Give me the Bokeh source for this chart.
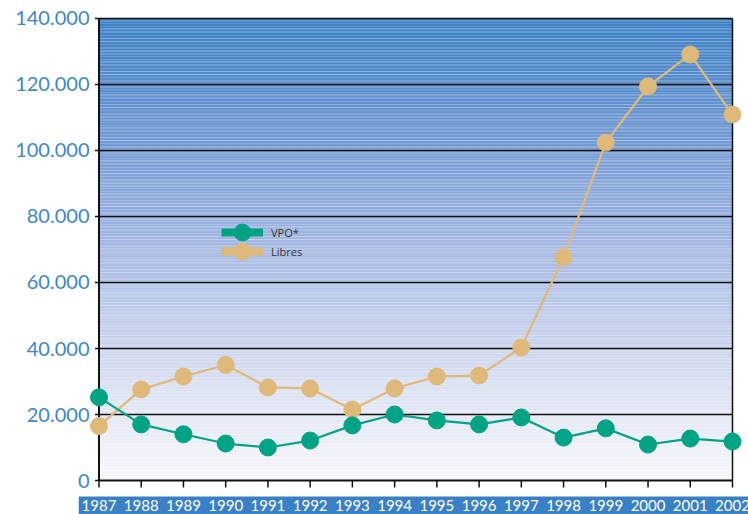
import numpy as np
from bokeh.plotting import figure
from bokeh.models import Range1d, FixedTicker, Legend, LegendItem
from bokeh.core.properties import value
from bokeh.embed import file_html
from bokeh.resources import INLINE

# ---- data ----
years = [1987, 1988, 1989, 1990, 1991, 1992, 1993, 1994, 1995, 1996, 1997, 1998, 1999, 2000, 2001, 2002]
vpo = [25200, 17000, 14000, 11200, 10000, 12100, 16700, 20000, 18200, 17000, 19100, 13000, 15800, 10900, 12700, 11800]
libres = [16500, 27600, 31500, 35000, 28200, 27900, 21500, 27900, 31500, 31800, 40300, 67600, 102400, 119400, 129100, 110900]
y_ticks = [0, 20000, 40000, 60000, 80000, 100000, 120000, 140000]
y_tick_labels = ["0", "20.000", "40.000", "60.000", "80.000", "100.000", "120.000", "140.000"]
x_tick_labels = ["1987", "1988", "1989", "1990", "1991", "1992", "1993", "1994",
                 "1995", "1996", "1997", "1998", "1999", "2000", "2001", "2002"]
series_names = ["VPO*", "Libres"]

TEAL = "#00a384"
TAN = "#dfb97a"
LABEL_BLUE = "#3d87c9"
BAND_BLUE = "#3a80c6"
FONT = "Lato"

W, H = 748, 514
FL, FT = 78, 16                     # frame left / top in px
XR = (1986.515, 2002.379)
YR = (-10303, 140606)
px_x = (XR[1] - XR[0]) / (W - FL)   # data units per pixel
px_y = (YR[1] - YR[0]) / (H - FT)

x0, x1 = years[0], years[-1]
y_top = y_ticks[-1]

p = figure(width=W, height=H, output_backend="svg", toolbar_location=None,
           x_range=Range1d(*XR), y_range=Range1d(*YR), x_axis_location=None,
           min_border_left=FL, min_border_right=0, min_border_top=FT, min_border_bottom=0,
           background_fill_color="white", border_fill_color="white", outline_line_color=None)
p.grid.visible = False

# ---- gradient background ----
stops = [(0.0, (247, 248, 252)), (0.17, (224, 229, 243)), (0.5, (166, 185, 227)),
         (0.75, (112, 152, 211)), (1.0, (58, 127, 196))]
n = 140
edges = np.linspace(0, y_top, n + 1)
mids = (edges[:-1] + edges[1:]) / 2 / y_top
fr = [s[0] for s in stops]
cols = []
for m in mids:
    r = np.interp(m, fr, [s[1][0] for s in stops])
    g = np.interp(m, fr, [s[1][1] for s in stops])
    b = np.interp(m, fr, [s[1][2] for s in stops])
    cols.append("#%02x%02x%02x" % (int(r), int(g), int(b)))
p.quad(left=x0, right=x1, bottom=edges[:-1], top=edges[1:], fill_color=cols, line_color=None)
p.quad(left=[x0], right=[x1], bottom=[0], top=[y_top], fill_alpha=0, line_color=None,
       hatch_pattern="horizontal_line", hatch_color="white", hatch_alpha=0.18,
       hatch_scale=3, hatch_weight=1)

# ---- blue band behind the year labels ----
p.quad(left=[XR[0]], right=[XR[1]], bottom=[YR[0]], top=[-16 * px_y],
       fill_color=BAND_BLUE, line_color=None)

# ---- grid + frame lines ----
p.segment(x0=x0, x1=x1, y0=y_ticks[1:], y1=y_ticks[1:], line_color="#111111", line_width=1.3)
p.segment(x0=[x0, x1], x1=[x0, x1], y0=[0, 0], y1=[y_top, y_top],
          line_color="#111111", line_width=[2, 1.5])
p.segment(x0=x0 - 4 * px_x, x1=x0, y0=y_ticks, y1=y_ticks, line_color="#111111", line_width=1.5)
# x axis line + ticks
p.segment(x0=[x0], x1=[x1], y0=[0], y1=[0], line_color="#111111", line_width=2)
p.segment(x0=years, x1=years, y0=0, y1=-7 * px_y, line_color="#111111", line_width=1.5)
# year labels
p.text(x=years, y=-25 * px_y, text=x_tick_labels, text_align="center", text_baseline="middle",
       text_color="white", text_font=value(FONT), text_font_size="15px")

# ---- series ----
p.line(years, libres, line_color=TAN, line_width=2.2)
p.scatter(years, libres, size=17, fill_color=TAN, line_color=TAN)
p.line(years, vpo, line_color=TEAL, line_width=2.2)
p.scatter(years, vpo, size=17, fill_color=TEAL, line_color=TEAL)

# ---- y axis labels ----
ya = p.yaxis[0]
ya.ticker = FixedTicker(ticks=y_ticks)
ya.major_label_overrides = {t: l for t, l in zip(y_ticks, y_tick_labels)}
ya.axis_line_color = None
ya.major_tick_line_color = None
ya.minor_tick_line_color = None
ya.major_tick_out = 0
ya.major_tick_in = 0
ya.major_label_text_color = LABEL_BLUE
ya.major_label_text_font = FONT
ya.major_label_text_font_size = "20px"
ya.major_label_standoff = -11

# ---- legends (thick swatches) ----
nan = [float("nan")]
lv1 = p.line(x=nan, y=nan, line_color=TEAL, line_width=8)
sv1 = p.scatter(x=nan, y=nan, size=17, fill_color=TEAL, line_color=TEAL)
lv2 = p.line(x=nan, y=nan, line_color=TAN, line_width=8)
sv2 = p.scatter(x=nan, y=nan, size=17, fill_color=TAN, line_color=TAN)

common = dict(glyph_width=42, glyph_height=42, label_height=17, padding=0, margin=0,
              background_fill_alpha=0, border_line_color=None, label_text_font_size="11px",
              label_text_font="Open Sans", label_text_color="#333333", label_standoff=8)
lx = 221 - FL
leg1 = Legend(items=[LegendItem(label=series_names[0], renderers=[lv1, sv1])],
              location=(lx, H - 232 - 21), **common)
leg2 = Legend(items=[LegendItem(label=series_names[1], renderers=[lv2, sv2])],
              location=(lx, H - 251 - 21), **common)
p.add_layout(leg1)
p.add_layout(leg2)

open("out.html", "w").write(file_html(p, INLINE))
